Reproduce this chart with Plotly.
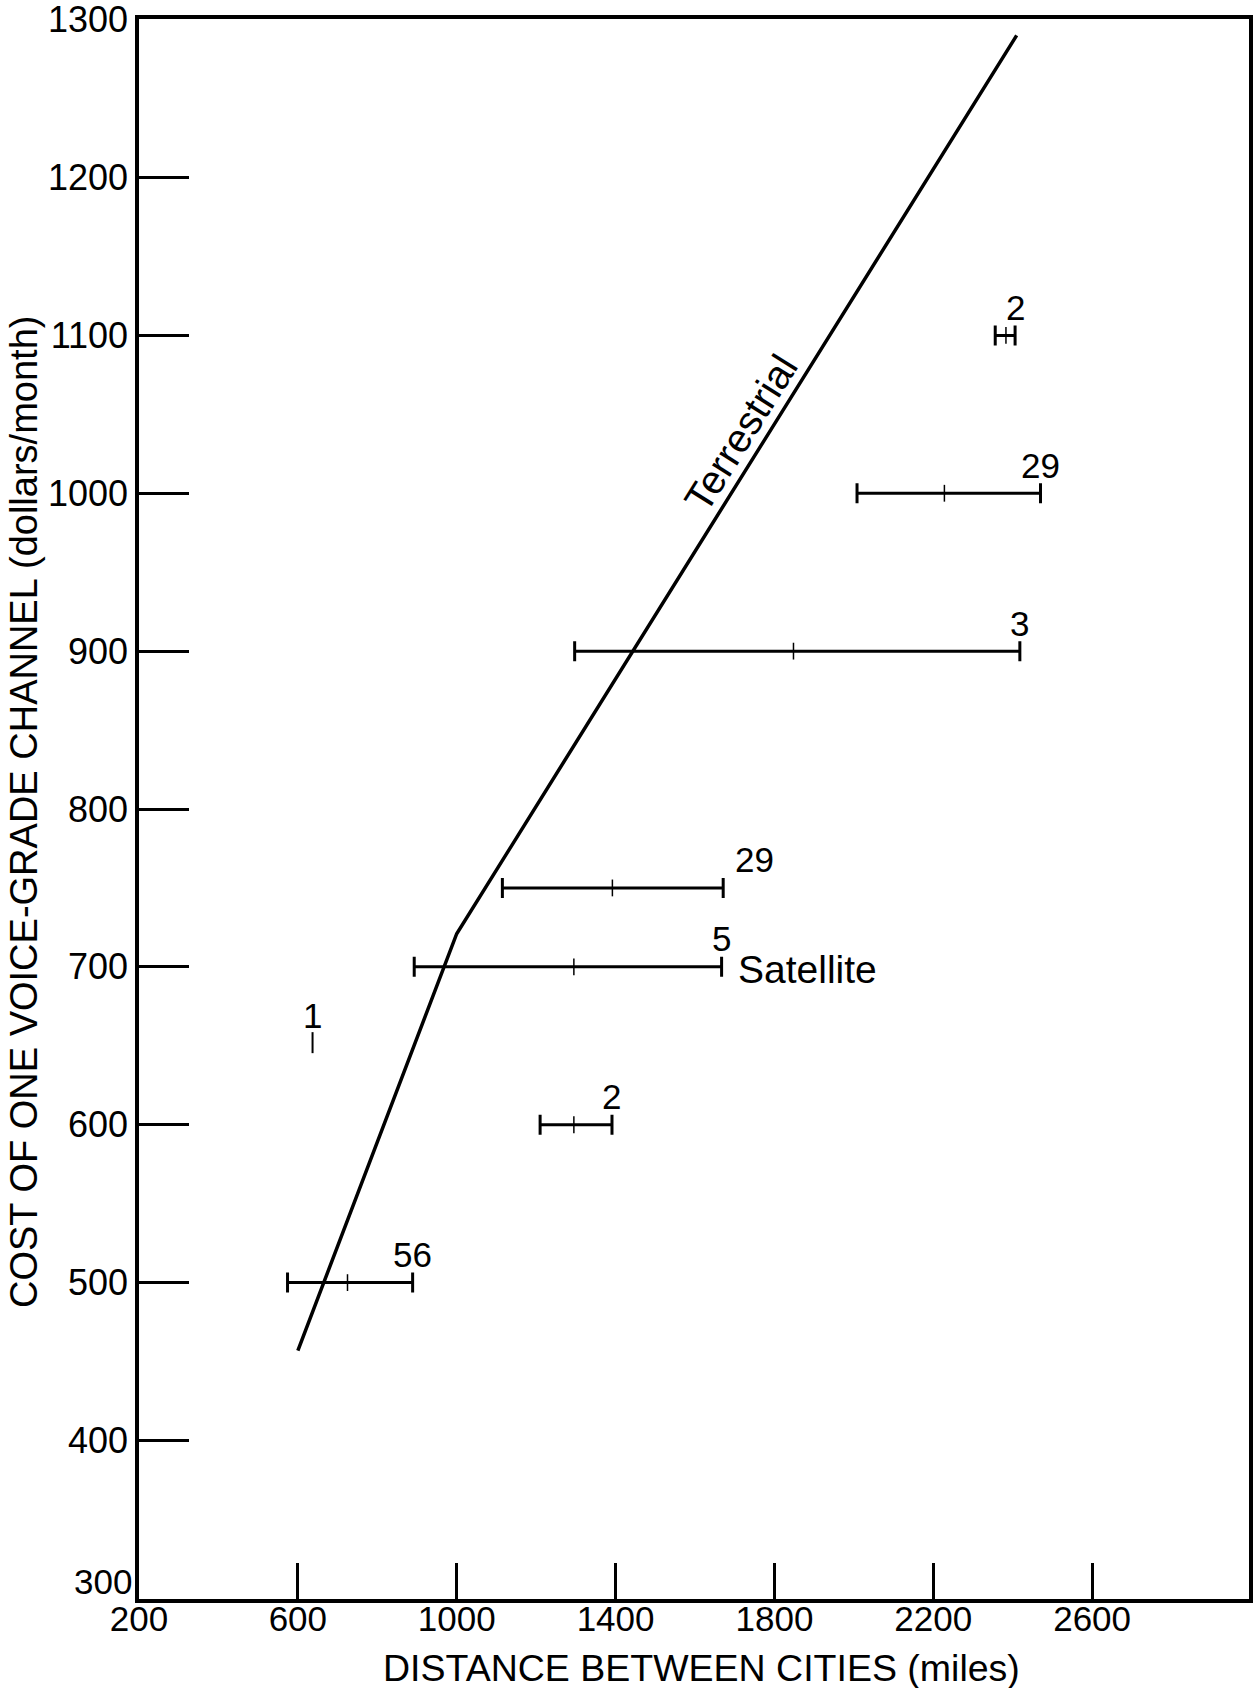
import plotly.graph_objects as go

# ---- data ----
terr_x = [600, 1000, 2410]
terr_y = [457, 721, 1290]

bar_cost = [500, 600, 700, 750, 900, 1000, 1100]
bar_lo = [574, 1210, 893, 1115, 1297, 2008, 2356]
bar_mid = [725, 1295, 1295, 1392, 1848, 2228, 2383]
bar_hi = [889, 1391, 1667, 1671, 2418, 2470, 2406]
bar_n = ["56", "2", "5", "29", "3", "29", "2"]

single_x = [637]
single_y = [652]
single_n = ["1"]

x_ticks = [200, 600, 1000, 1400, 1800, 2200, 2600]
x_ticktext = ["200", "600", "1000", "1400", "1800", "2200", "2600"]
y_ticks = [300, 400, 500, 600, 700, 800, 900, 1000, 1100, 1200, 1300]
y_ticktext = ["300", "400", "500", "600", "700", "800", "900", "1000", "1100", "1200", "1300"]

x_title = "DISTANCE BETWEEN CITIES (miles)"
y_title = "COST OF ONE VOICE-GRADE CHANNEL (dollars/month)"

FONT = "Liberation Sans, Arial, DejaVu Sans, sans-serif"

fig = go.Figure()

fig.add_trace(go.Scatter(
    x=terr_x, y=terr_y, mode="lines",
    line=dict(color="black", width=3.5), hoverinfo="skip", showlegend=False))

fig.add_trace(go.Scatter(
    x=bar_mid, y=bar_cost, mode="markers",
    marker=dict(symbol="line-ns", size=12, line=dict(color="black", width=1.5)),
    error_x=dict(type="data", symmetric=False,
                 array=[h - m for h, m in zip(bar_hi, bar_mid)],
                 arrayminus=[m - l for m, l in zip(bar_mid, bar_lo)],
                 color="black", thickness=3, width=10),
    showlegend=False))

fig.add_trace(go.Scatter(
    x=single_x, y=single_y, mode="markers",
    marker=dict(symbol="line-ns", size=15, line=dict(color="black", width=2)),
    showlegend=False))

annotations = []
extra_dx = {3: 31}
for i, (xh, yc, t) in enumerate(zip(bar_hi, bar_cost, bar_n)):
    annotations.append(dict(x=xh, y=yc, text=t, showarrow=False,
                            xshift=extra_dx.get(i, 0), yshift=28,
                            font=dict(size=35, color="black", family=FONT)))
for xs, ys, t in zip(single_x, single_y, single_n):
    annotations.append(dict(x=xs, y=ys, text=t, showarrow=False, yshift=27,
                            font=dict(size=35, color="black", family=FONT)))

# series labels
annotations.append(dict(x=bar_hi[2], y=bar_cost[2], text="Satellite", showarrow=False,
                        xanchor="left", xshift=14, yshift=-3,
                        font=dict(size=39, color="black", family=FONT)))
annotations.append(dict(x=1768, y=1030, text="Terrestrial", showarrow=False,
                        textangle=-58, xshift=-21, yshift=13,
                        font=dict(size=40, color="black", family=FONT)))

# the lowest y label sits raised above the x axis in the original
annotations.append(dict(xref="paper", yref="y", x=0, y=y_ticks[0], text=y_ticktext[0],
                        showarrow=False, xanchor="right", yanchor="middle",
                        xshift=-5, yshift=17,
                        font=dict(size=35, color="black", family=FONT)))

# axis titles
annotations.append(dict(xref="paper", yref="paper", x=0.5, y=0, yanchor="middle",
                        yshift=-69, xshift=7, text=x_title, showarrow=False,
                        font=dict(size=37.5, color="black", family=FONT)))
annotations.append(dict(xref="paper", yref="paper", x=0, y=0.5, xanchor="center",
                        xshift=-115, yshift=-3, textangle=-90, text=y_title, showarrow=False,
                        font=dict(size=38, color="black", family=FONT)))

fig.update_layout(
    width=1255, height=1688,
    margin=dict(l=139, r=6, t=19, b=89, autoexpand=False),
    paper_bgcolor="white", plot_bgcolor="white",
    annotations=annotations,
    showlegend=False,
    xaxis=dict(range=[200, 2995], tickvals=x_ticks, ticktext=x_ticktext,
               ticks="inside", ticklen=36, tickwidth=3, tickcolor="black",
               showline=True, linewidth=3.5, linecolor="black", mirror=True,
               showgrid=False, zeroline=False, automargin=False,
               ticklabelstandoff=-14, ticklabeloverflow="allow",
               tickfont=dict(size=35, color="black", family=FONT)),
    yaxis=dict(range=[299.6, 1300.4], tickvals=y_ticks,
               ticktext=[""] + y_ticktext[1:],
               ticks="inside", ticklen=50, tickwidth=3, tickcolor="black",
               showline=True, linewidth=3.5, linecolor="black", mirror=True,
               showgrid=False, zeroline=False, automargin=False,
               ticklabeloverflow="allow",
               tickfont=dict(size=36, color="black", family=FONT)),
)

fig.write_html("out.html")
